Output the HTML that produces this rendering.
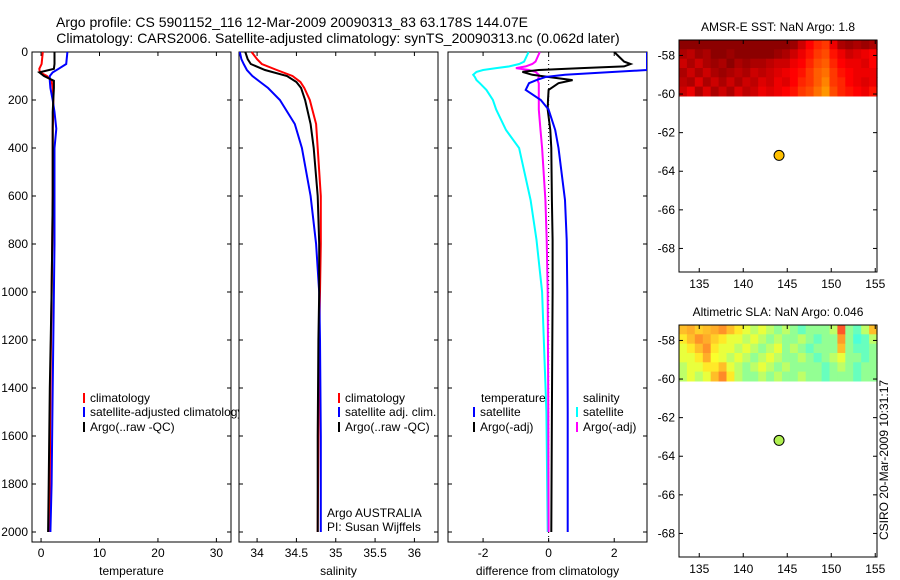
<!DOCTYPE html>
<html><head><meta charset="utf-8"><style>
html,body{margin:0;padding:0;background:#fff;}
svg{display:block;font-family:"Liberation Sans",sans-serif;}
</style></head><body>
<svg id="fig" width="900" height="580" viewBox="0 0 900 580" xmlns="http://www.w3.org/2000/svg">
<text x="292" y="27" text-anchor="middle" font-size="14">Argo profile: CS 5901152_116 12-Mar-2009 20090313_83 63.178S 144.07E</text>
<text x="338" y="43" text-anchor="middle" font-size="14">Climatology: CARS2006. Satellite-adjusted climatology: synTS_20090313.nc (0.062d later)</text>
<g id="g"></g>
</svg>
<script>
// ---------- data ----------
const tDepth=[0,50,70,85,100,120,150,200,250,320,400,600,800,1000,1400,1800,2000];
const tClim=[0.3,0.1,-0.3,-0.2,1.0,1.8,2.0,2.1,2.1,2.0,2.0,2.0,1.9,1.8,1.6,1.5,1.4];
const tSat=[4.5,4.3,3.0,2.0,1.5,1.5,1.6,2.0,2.3,2.6,2.3,2.3,2.3,2.2,2.0,1.8,1.6];
const tArgo=[2.3,2.3,2.2,-0.3,0.5,2.2,2.2,2.1,2.0,2.0,2.0,2.0,1.9,1.8,1.5,1.3,1.2];
const sDepth=[0,30,50,75,100,125,150,200,300,400,600,800,1000,1200,1600,2000];
const sClim=[33.93,34.0,34.06,34.25,34.45,34.55,34.6,34.67,34.75,34.77,34.81,34.81,34.80,34.79,34.78,34.77];
const sSat=[33.78,33.8,33.83,33.87,33.94,34.04,34.14,34.29,34.48,34.57,34.68,34.75,34.79,34.80,34.81,34.81];
const sArgo=[33.85,33.88,33.92,34.1,34.38,34.5,34.56,34.61,34.68,34.72,34.77,34.79,34.79,34.78,34.77,34.77];
const dDepth=[0,40,50,60,67,75,83,95,104,117,130,158,200,240,325,400,617,783,1000,1500,2000];
const dTsat=[3.0,3.0,3.0,3.0,3.0,3.0,2.0,0.5,-0.1,-0.37,-0.6,-0.7,-0.24,0.0,0.2,0.3,0.5,0.55,0.57,0.58,0.58];
const dTargo=[2.0,2.3,2.5,2.3,1.0,-0.3,-0.8,-0.5,0.0,0.73,0.3,0.0,-0.02,-0.03,0.05,0.08,0.1,0.12,0.12,0.1,0.08];
const dScat=[-0.61,-0.75,-0.9,-1.2,-1.6,-2.0,-2.2,-2.3,-2.25,-2.2,-2.1,-1.9,-1.7,-1.6,-1.3,-0.9,-0.55,-0.37,-0.2,-0.07,-0.03];
const dSargo=[-0.27,-0.4,-0.5,-0.7,-1.0,-0.6,-0.4,-0.3,-0.3,-0.34,-0.3,-0.3,-0.3,-0.3,-0.25,-0.2,-0.1,-0.06,-0.03,-0.01,0.0];
const sstGrid=[
[0,0,0,0,0,0,0,0,0,0,0,0,0,0,0.05,0.2,0.35,0.45,0.5,0.3,0.1,0.05,0.1,0.05,0.1],
[0.1,0.15,0.05,0.1,0,0,0.05,0,0,0,0,0,0.05,0.1,0.2,0.3,0.4,0.5,0.55,0.4,0.3,0.2,0.25,0.3,0.35],
[0.2,0.1,0.2,0.1,0.05,0.1,0,0.1,0.05,0.1,0.1,0.15,0.2,0.2,0.3,0.35,0.45,0.55,0.6,0.45,0.35,0.3,0.3,0.25,0.35],
[0.1,0.2,0.1,0.2,0.1,0.05,0.1,0.15,0.1,0.2,0.15,0.2,0.25,0.3,0.35,0.4,0.5,0.6,0.65,0.5,0.4,0.35,0.3,0.3,0.3],
[0.15,0.1,0.25,0.1,0.2,0.1,0.2,0.1,0.2,0.15,0.25,0.2,0.3,0.25,0.35,0.45,0.5,0.6,0.7,0.5,0.45,0.35,0.3,0.25,0.3],
[0.2,0.3,0.1,0.25,0.1,0.2,0.1,0.25,0.15,0.2,0.3,0.25,0.3,0.35,0.4,0.5,0.55,0.65,0.75,0.55,0.45,0.4,0.35,0.3,0.4]];
const slaGrid=[
[0.7,0.72,0.68,0.7,0.72,0.75,0.7,0.65,0.6,0.55,0.6,0.55,0.5,0.55,0.5,0.45,0.5,0.5,0.5,0.55,0.82,0.5,0.45,0.55,0.7],
[0.65,0.7,0.75,0.72,0.68,0.65,0.6,0.6,0.55,0.6,0.55,0.5,0.55,0.5,0.5,0.55,0.5,0.45,0.5,0.5,0.74,0.5,0.42,0.45,0.55],
[0.6,0.65,0.7,0.75,0.65,0.6,0.6,0.55,0.6,0.55,0.5,0.55,0.6,0.5,0.55,0.5,0.45,0.5,0.5,0.5,0.7,0.5,0.45,0.45,0.5],
[0.6,0.6,0.65,0.72,0.62,0.6,0.55,0.6,0.55,0.5,0.55,0.6,0.55,0.5,0.5,0.55,0.5,0.45,0.5,0.55,0.6,0.5,0.5,0.45,0.5],
[0.55,0.6,0.6,0.65,0.65,0.7,0.6,0.55,0.5,0.55,0.6,0.55,0.5,0.55,0.5,0.5,0.5,0.5,0.45,0.5,0.55,0.5,0.45,0.5,0.5],
[0.55,0.6,0.55,0.6,0.7,0.76,0.65,0.55,0.5,0.5,0.55,0.5,0.55,0.5,0.5,0.55,0.5,0.5,0.45,0.5,0.5,0.5,0.45,0.5,0.5]];
const depthTicks=[0,200,400,600,800,1000,1200,1400,1600,1800,2000];
const tTicks=[0,10,20,30];
const sTicks=[34,34.5,35,35.5,36];
const dTicks=[-2,0,2];
const lonTicks=[135,140,145,150,155];
const latTicks=[-58,-60,-62,-64,-66,-68];
const argoLon=144.07, argoLat=-63.18;

// ---------- helpers ----------
const NS="http://www.w3.org/2000/svg";
const G=document.getElementById('g');
function el(tag,attrs,parent){const e=document.createElementNS(NS,tag);for(const k in attrs)e.setAttribute(k,attrs[k]);(parent||G).appendChild(e);return e;}
function txt(x,y,s,size,anchor,parent){const t=el('text',{x:x,y:y,'font-size':size,'text-anchor':anchor||'start'},parent);t.textContent=s;return t;}
const yD=d=>52+d*0.24;
function panel(name,x0,x1,xmin,xmax,ticks,label,showY){
  const sx=v=>x0+(v-xmin)/(xmax-xmin)*(x1-x0);
  const g=el('g',{});
  
  
  const r=el('rect',{x:x0,y:yD(0),width:x1-x0,height:542-yD(0),fill:'#fff',stroke:'#000','stroke-width':1},g);
  
  
  depthTicks.forEach(d=>{const y=yD(d);
    el('line',{x1:x0,x2:x0+4,y1:y,y2:y,stroke:'#000'},g);el('line',{x1:x1,x2:x1-4,y1:y,y2:y,stroke:'#000'},g);
    if(showY){const t=txt(x0-4,y+4,String(d),12,'end',g);}});
  ticks.forEach(v=>{const x=sx(v);
    el('line',{x1:x,x2:x,y1:542,y2:538,stroke:'#000'},g);el('line',{x1:x,x2:x,y1:yD(0),y2:yD(0)+4,stroke:'#000'},g);
    const t=txt(x,557,String(v),12,'middle',g);});
  const xl=txt((x0+x1)/2,575,label,12,'middle',g);
  
  
  const clip=el('clipPath',{id:'c'+name},g);el('rect',{x:x0,y:yD(0)-3,width:x1-x0,height:500},clip);
  const lg=el('g',{'clip-path':'url(#c'+name+')'},g);
  return {sx,g,lg};
}
function series(p,depths,vals,color,name){
  const pts=depths.map((d,i)=>p.sx(vals[i]).toFixed(1)+','+yD(d).toFixed(1)).join(' ');
  const l=el('polyline',{points:pts,fill:'none',stroke:color,'stroke-width':2},p.lg);
  
  
}
function legendItem(p,x,y,color,label,name){
  const g=el('g',{},p.g);
  
  
  el('line',{x1:x,x2:x,y1:y-9,y2:y+1,stroke:color,'stroke-width':2},g);
  txt(x+6,y,label,12,'start',g);
}

// ---------- temperature ----------
const p1=panel('temperature-panel',32,231,-1.55,32.5,tTicks,'temperature',true);
series(p1,tDepth,tClim,'#f00','temp-climatology-line');
series(p1,tDepth,tSat,'#00f','temp-satellite-line');
series(p1,tDepth,tArgo,'#000','temp-argo-line');
legendItem(p1,84,402,'#f00','climatology','legend-climatology');
legendItem(p1,84,416,'#00f','satellite-adjusted climatology','legend-satellite');
legendItem(p1,84,431,'#000','Argo(..raw -QC)','legend-argo');

// ---------- salinity ----------
const p2=panel('salinity-panel',239,438,33.77,36.30,sTicks,'salinity',false);
series(p2,sDepth,sClim,'#f00','sal-climatology-line');
series(p2,sDepth,sSat,'#00f','sal-satellite-line');
series(p2,sDepth,sArgo,'#000','sal-argo-line');
legendItem(p2,339,402,'#f00','climatology','legend-climatology');
legendItem(p2,339,416,'#00f','satellite adj. clim.','legend-satellite');
legendItem(p2,339,431,'#000','Argo(..raw -QC)','legend-argo');
txt(327,517,'Argo AUSTRALIA',12,'start',p2.g);
txt(327,531,'PI: Susan Wijffels',12,'start',p2.g);

// ---------- difference ----------
const p3=panel('difference-panel',448,647,-3.07,3.0,dTicks,'difference from climatology',false);
el('line',{x1:p3.sx(0),x2:p3.sx(0),y1:yD(0),y2:542,stroke:'#000','stroke-dasharray':'1,3'},p3.lg);
series(p3,dDepth,dScat,'#0ff','diff-sal-satellite-line');
series(p3,dDepth,dSargo,'#f0f','diff-sal-argo-line');
series(p3,dDepth,dTargo,'#000','diff-temp-argo-line');
series(p3,dDepth,dTsat,'#00f','diff-temp-satellite-line');
txt(481,402,'temperature',12,'start',p3.g);
txt(583,402,'salinity',12,'start',p3.g);
legendItem(p3,474,416,'#00f','satellite','legend-temp-satellite');
legendItem(p3,474,431,'#000','Argo(-adj)','legend-temp-argo');
legendItem(p3,577,416,'#0ff','satellite','legend-sal-satellite');
legendItem(p3,577,431,'#f0f','Argo(-adj)','legend-sal-argo');

// ---------- maps ----------
function hot(v){let r,g,b;
  if(v<0.35){r=140+v/0.35*115;g=0;b=0;}else if(v<0.75){r=255;g=(v-0.35)/0.4*150;b=0;}else{r=255;g=150+(v-0.75)/0.25*90;b=0;}
  return `rgb(${r|0},${g|0},${b|0})`;}
function jet(v){const c=t=>Math.max(0,Math.min(1,1.5-Math.abs(4*v-t)));
  const m=x=>(x*215+40)|0;
  return `rgb(${m(c(3))},${m(c(2))},${m(c(1))})`;}
function map(name,y0,title,grid,cmap,dotColor){
  const x0=679,x1=877,y1=y0+232,lonMin=132.7,lonMax=155.2,latTop=-57.2;
  const sx=v=>x0+(v-lonMin)/(lonMax-lonMin)*(x1-x0);
  const sy=v=>y0+(latTop-v)*19.3;
  const g=el('g',{});
  
  
  el('rect',{x:x0,y:y0,width:x1-x0,height:y1-y0,fill:'#fff'},g);
  const rows=grid.length,cols=grid[0].length,latBot=-60.1;
  const dl=(lonMax-lonMin)/cols,dla=(latTop-latBot)/rows;
  grid.forEach((row,r)=>row.forEach((v,c)=>{
    const cell=el('rect',{x:sx(lonMin+c*dl).toFixed(1),y:sy(latTop-r*dla).toFixed(1),width:(dl*8.8+0.6).toFixed(1),height:(dla*19.3+0.6).toFixed(1),fill:cmap(v)},g);
    
    
  }));
  el('rect',{x:x0,y:y0,width:x1-x0,height:y1-y0,fill:'none',stroke:'#000'},g);
  lonTicks.forEach(v=>{const x=sx(v);el('line',{x1:x,x2:x,y1:y1,y2:y1-4,stroke:'#000'},g);el('line',{x1:x,x2:x,y1:y0,y2:y0+4,stroke:'#000'},g);
    txt(x,y1+16,String(v),12,'middle',g);});
  latTicks.forEach(v=>{const y=sy(v);el('line',{x1:x0,x2:x0+4,y1:y,y2:y,stroke:'#000'},g);el('line',{x1:x1,x2:x1-4,y1:y,y2:y,stroke:'#000'},g);
    txt(x0-4,y+4,String(v),12,'end',g);});
  const dot=el('circle',{cx:sx(argoLon),cy:sy(argoLat),r:5,fill:dotColor,stroke:'#000'},g);
  
  
  const t=txt((x0+x1)/2,y0-9,title,12,'middle',g);
  
  
}
map('sst-map',40,'AMSR-E SST: NaN Argo: 1.8',sstGrid,hot,'#ffc000');
map('sla-map',325,'Altimetric SLA: NaN Argo: 0.046',slaGrid,jet,'#b0f050');
const stamp=txt(0,0,'CSIRO 20-Mar-2009 10:31:17',12,'middle');
stamp.setAttribute('transform','translate(888,460) rotate(-90)');


</script>
</body></html>
